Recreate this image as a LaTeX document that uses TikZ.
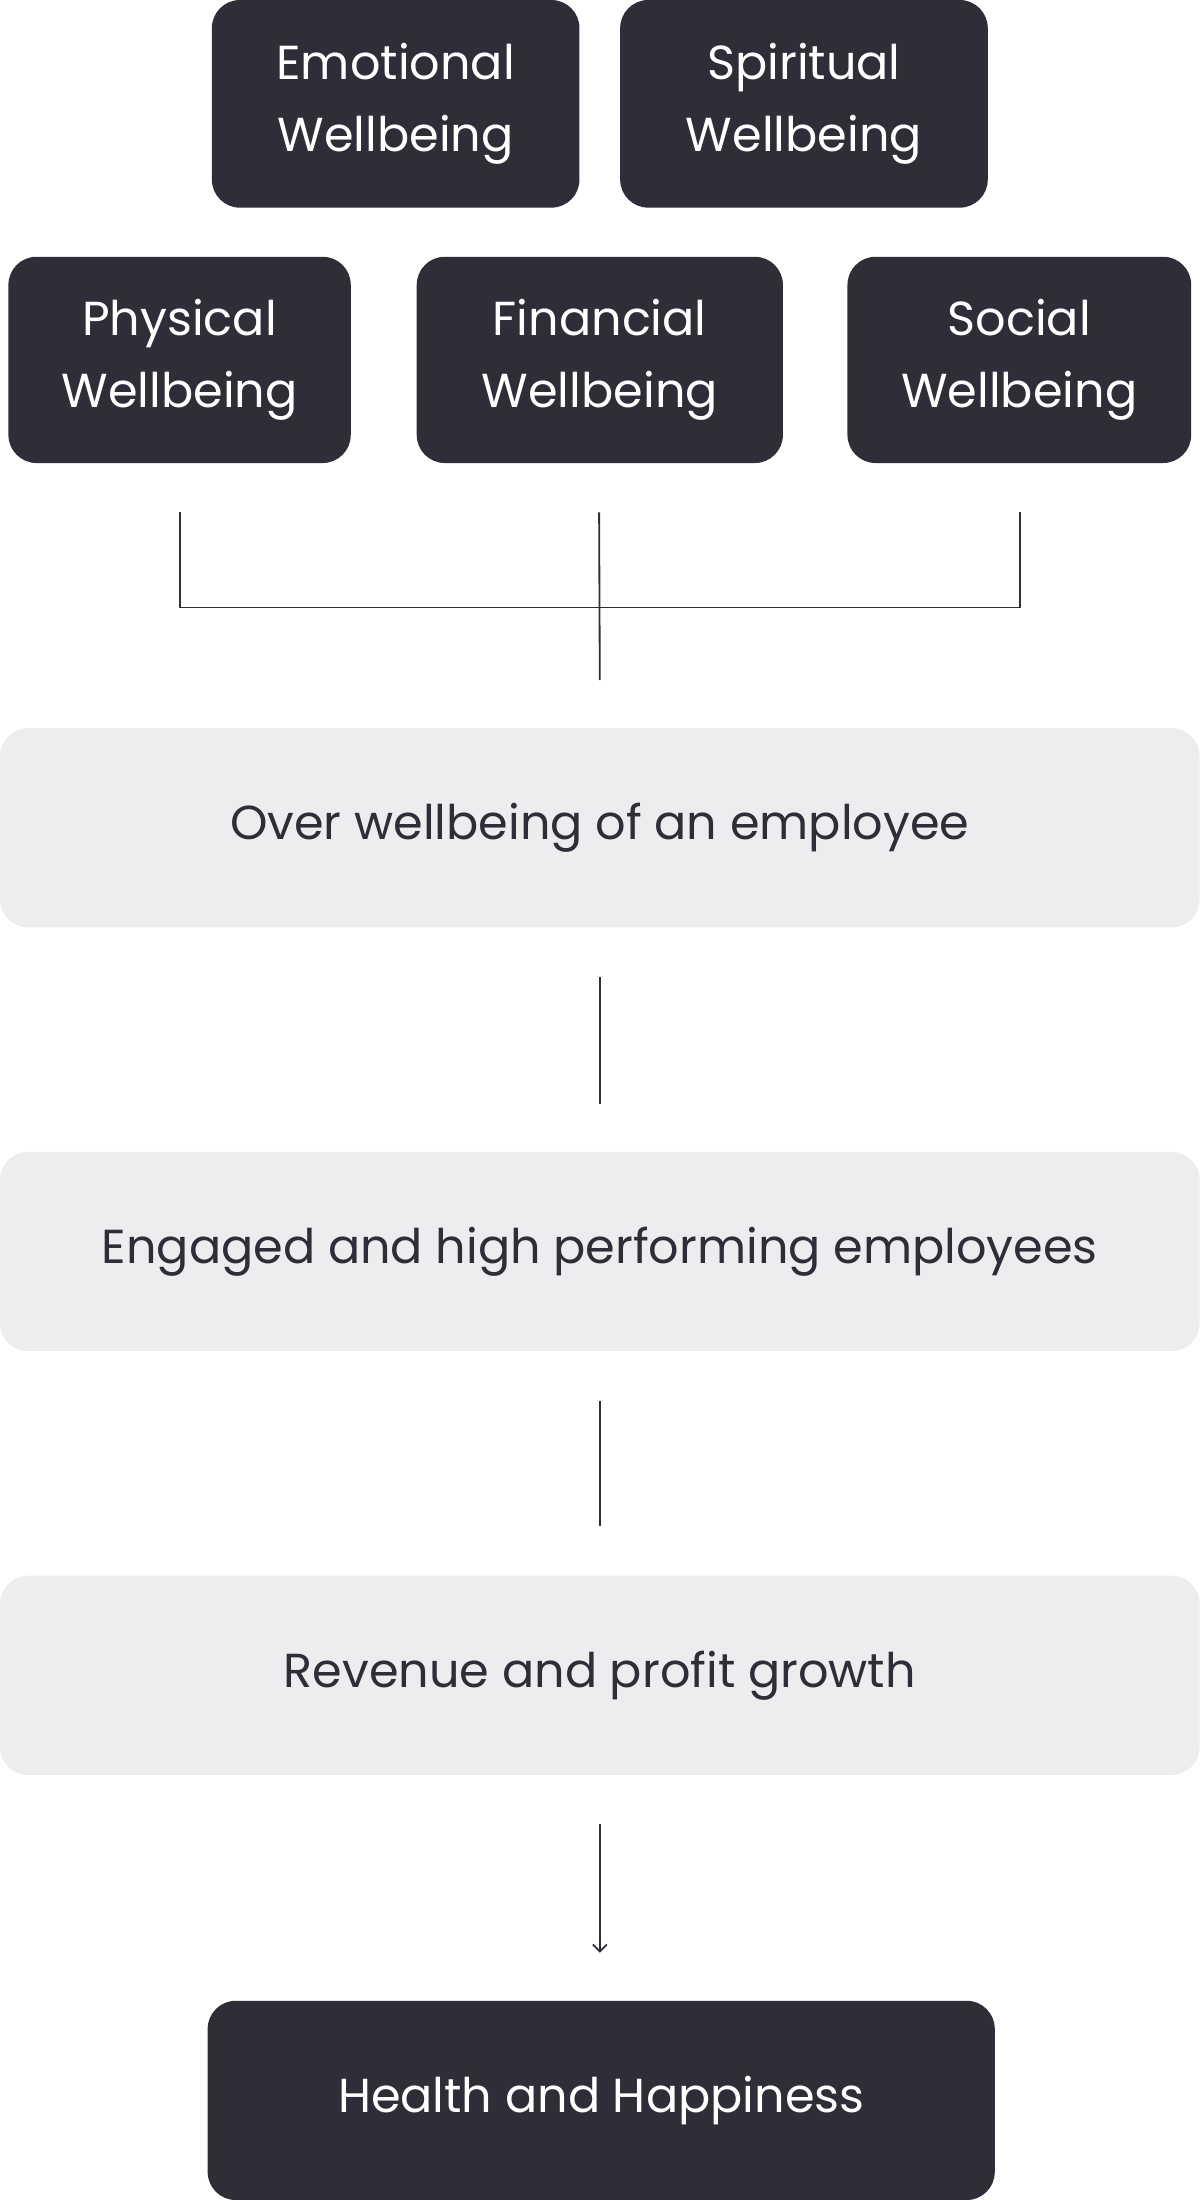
\documentclass[tikz,border=0pt]{standalone}
\usetikzlibrary{arrows.meta}
\usepackage{fontspec}
\setmainfont{Poppins}
\definecolor{dk}{HTML}{2E2E38}
\definecolor{lt}{HTML}{EDEDEF}
\begin{document}
\begin{tikzpicture}[x=1bp,y=-1bp,
  dbox/.style={fill=dk,rounded corners=20bp,text=white,align=center,inner sep=0pt,font=\fontsize{34bp}{51bp}\selectfont},
  lbox/.style={fill=lt,rounded corners=20bp,text=dk,align=center,inner sep=0pt,minimum width=855bp,minimum height=142bp,font=\fontsize{34bp}{51bp}\selectfont},
  ln/.style={draw=dk,line width=1.3bp}]
\useasboundingbox (0,0) rectangle (855,1568);
\node[dbox,minimum width=262bp,minimum height=148bp] (emo) at (282,74) {\raisebox{-3bp}{Emotional}\\\raisebox{-3bp}{Wellbeing}};
\node[dbox,minimum width=262bp,minimum height=148bp] (spi) at (573,74) {\raisebox{-3bp}{Spiritual}\\\raisebox{-3bp}{Wellbeing}};
\node[dbox,minimum width=244bp,minimum height=147bp] (phy) at (128,256.5) {\raisebox{-3bp}{Physical}\\\raisebox{-3bp}{Wellbeing}};
\node[dbox,minimum width=261bp,minimum height=147bp] (fin) at (427.5,256.5) {\raisebox{-3bp}{Financial}\\\raisebox{-3bp}{Wellbeing}};
\node[dbox,minimum width=245bp,minimum height=147bp] (soc) at (726.5,256.5) {\raisebox{-3bp}{Social}\\\raisebox{-3bp}{Wellbeing}};
\node[lbox] (ov) at (427.5,590) {\raisebox{-3bp}{Over wellbeing of an employee}};
\node[lbox] (en) at (427.5,892) {\raisebox{-3bp}{Engaged and high performing employees}};
\node[lbox] (rev) at (427.5,1194) {\raisebox{-3bp}{Revenue and profit growth}};
\node[dbox,minimum width=561bp,minimum height=142bp] (hh) at (428.5,1497) {\raisebox{-3bp}{Health and Happiness}};
\coordinate (p1) at ([yshift=-35bp]phy.south);
\coordinate (f1) at ([xshift=-0.5bp,yshift=-35bp]fin.south);
\coordinate (s1) at ([xshift=0.5bp,yshift=-35bp]soc.south);
\coordinate (p2) at (p1 |- 0,433);
\coordinate (s2) at (s1 |- 0,433);
\coordinate (f2) at ([yshift=34bp]ov.north);
\draw[ln] (p1) -- (p2) -- (s2) -- (s1);
\draw[ln] (f1) -- (f2);
\draw[ln] ([yshift=-35bp]ov.south) -- ([yshift=34bp]en.north);
\draw[ln] ([yshift=-35bp]en.south) -- ([yshift=35bp]rev.north);
\draw[ln,-{Straight Barb[length=5bp,width=10bp]}] ([yshift=-35bp]rev.south) -- ([xshift=-1bp,yshift=34bp]hh.north);
\end{tikzpicture}
\end{document}
